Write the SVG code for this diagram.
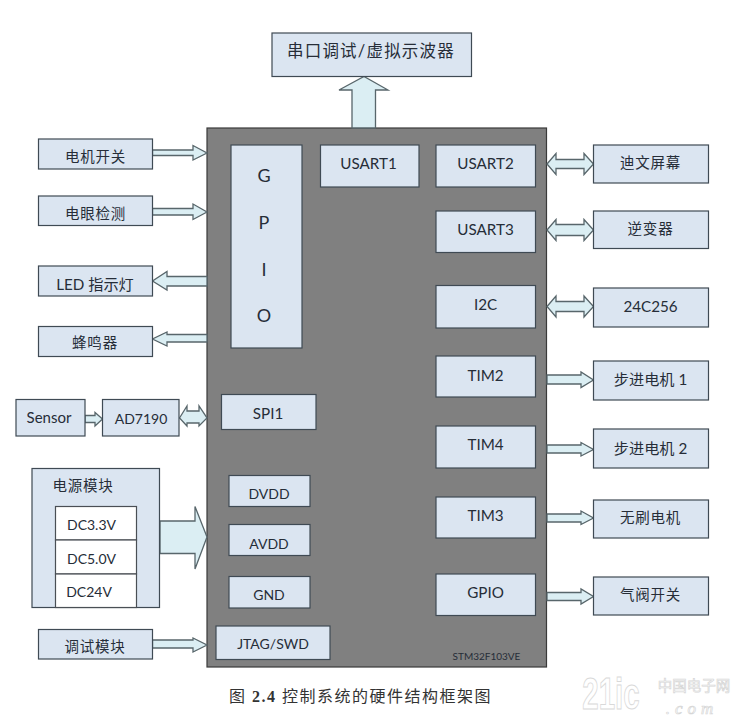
<svg xmlns="http://www.w3.org/2000/svg" width="737" height="720" viewBox="0 0 737 720">
<style>
.b{fill:#dbe5f1;stroke:#3f4a54;stroke-width:1.2}
.w{fill:#fff;stroke:#4a4f55;stroke-width:1.2}
.a{fill:#dbeef3;stroke:#58666b;stroke-width:1.3;stroke-linejoin:miter}
text{font-family:"Lato","Noto Sans CJK SC",sans-serif;fill:#262d38;font-size:15.200px;text-anchor:middle}
.c{letter-spacing:.8px;font-size:14.500px}
.s{font-size:14px}
</style>
<rect width="737" height="720" fill="#fff"/>
<g id="mcu"><rect x="207" y="128" width="339.500" height="539" fill="#808080" stroke="#3a3a3a" stroke-width="1.2"/><text x="486.500" y="660" style="font-size:10px">STM32F103VE</text></g>
<g id="connectors">
<path class="a" d="M352 128V90H339L364 76.500L388 90H375.500V128Z"/>
<path class="a" d="M152.500 150H193V145.500L207 153L193 160V155.500H152.500Z"/>
<path class="a" d="M152.500 208.500H193V204L207 212L193 219.500V215H152.500Z"/>
<path class="a" d="M207 276.500H167V271.500L152.500 281L167 290V286H207Z"/>
<path class="a" d="M207 334.500H167V332L152.500 339L167 346V342H207Z"/>
<path class="a" d="M85 415.500H95V412.500L102.500 419L95 426V422.500H85Z"/>
<path class="a" d="M179.500 418L187 406V411H199V406L207 418L199 426V423H187V426Z"/>
<path class="a" d="M160 521H195V506.500L207 537L195 569V553.500H160Z"/>
<path class="a" d="M152.500 640H193V638L207 645L193 652V648H152.500Z"/>
<path class="a" d="M547 164L556 153.500V159.500H584V153.500L593.500 164L584 174.500V168.500H556V174.500Z"/>
<path class="a" d="M547 230L556 219.500V224.500H584V219.500L593.500 230L584 240.500V235.500H556V240.500Z"/>
<path class="a" d="M547 306.500L556 296V301.500H584V296L593.500 306.500L584 317V311.500H556V317Z"/>
<path class="a" d="M547 375H581V372L593.500 380L581 387.500V384H547Z"/>
<path class="a" d="M547 445H581V442.500L593.500 449.500L581 456V453H547Z"/>
<path class="a" d="M547 514H581V511L593.500 518L581 524.500V522H547Z"/>
<path class="a" d="M547 592.500H581V589L593.500 596.500L581 604V600.500H547Z"/>
</g>
<g id="n1"><rect class="b" x="272" y="33" width="199.500" height="43.500"/><text x="371" y="56.500" style="font-size:16.500px;letter-spacing:1.200px">串口调试/虚拟示波器</text></g>
<g id="n2"><rect class="b" x="38.500" y="139" width="114" height="30"/><text class="c" x="95.500" y="162">电机开关</text></g>
<g id="n3"><rect class="b" x="38.500" y="196" width="114" height="29.500"/><text class="c" x="95.500" y="218.500">电眼检测</text></g>
<g id="n4"><rect class="b" x="38.500" y="266" width="114" height="30"/><text x="95" y="289.500">LED 指示灯</text></g>
<g id="n5"><rect class="b" x="38.500" y="326.500" width="114" height="30"/><text class="c" x="95" y="348">蜂鸣器</text></g>
<g id="n6"><rect class="b" x="231" y="145" width="71" height="203"/><text x="264" y="182" style="font-size:18px">G</text><text x="264" y="229" style="font-size:18px">P</text><text x="264" y="276" style="font-size:18px">I</text><text x="264" y="322" style="font-size:18px">O</text></g>
<g id="n7"><rect class="b" x="320.500" y="145" width="98.500" height="42"/><text x="368.500" y="169">USART1</text></g>
<g id="n8"><rect class="b" x="436" y="145" width="99.500" height="42"/><text x="485.500" y="169">USART2</text></g>
<g id="n9"><rect class="b" x="436" y="211" width="99.500" height="41.500"/><text x="485.500" y="234.500">USART3</text></g>
<g id="n10"><rect class="b" x="436" y="285.500" width="99.500" height="42.500"/><text x="485.500" y="309.500">I2C</text></g>
<g id="n11"><rect class="b" x="436" y="356" width="99.500" height="41"/><text x="485.500" y="380.500">TIM2</text></g>
<g id="n12"><rect class="b" x="436" y="426" width="99.500" height="42"/><text x="485.500" y="449.500">TIM4</text></g>
<g id="n13"><rect class="b" x="436" y="497" width="99.500" height="41"/><text x="485.500" y="520.500">TIM3</text></g>
<g id="n14"><rect class="b" x="436" y="574" width="99.500" height="41.500"/><text x="485.500" y="597.500">GPIO</text></g>
<g id="n15"><rect class="b" x="593.500" y="145" width="115" height="38"/><text class="c" x="650.500" y="168">迪文屏幕</text></g>
<g id="n16"><rect class="b" x="593.500" y="211" width="115" height="37.500"/><text class="c" x="650.500" y="234">逆变器</text></g>
<g id="n17"><rect class="b" x="593.500" y="288" width="115" height="39"/><text x="650.500" y="312">24C256</text></g>
<g id="n18"><rect class="b" x="593.500" y="361" width="115" height="39"/><text x="650.500" y="385">步进电机 1</text></g>
<g id="n19"><rect class="b" x="593.500" y="429" width="115" height="39"/><text x="650.500" y="454">步进电机 2</text></g>
<g id="n20"><rect class="b" x="593.500" y="500" width="115" height="38"/><text class="c" x="650.500" y="523">无刷电机</text></g>
<g id="n21"><rect class="b" x="593.500" y="577" width="115" height="38"/><text class="c" x="650.500" y="600">气阀开关</text></g>
<g id="n22"><rect class="b" x="16" y="399.500" width="69" height="36.500"/><text x="49" y="423" style="font-size:15px">Sensor</text></g>
<g id="n23"><rect class="b" x="102.500" y="399.500" width="76.500" height="36.500"/><text class="s" x="141" y="423.500">AD7190</text></g>
<g id="n24"><rect class="b" x="221.500" y="394.500" width="94.500" height="35"/><text x="268" y="418.500">SPI1</text></g>
<g id="n25"><rect class="b" x="32" y="468.500" width="127.500" height="139"/><text class="c" x="83" y="491">电源模块</text>
<rect class="w" x="55.500" y="506.500" width="81" height="33.500"/><rect class="w" x="55.500" y="540" width="81" height="34"/><rect class="w" x="55.500" y="574" width="81" height="33.500"/>
<text class="s" x="91.500" y="530">DC3.3V</text><text class="s" x="91.500" y="564">DC5.0V</text><text class="s" x="89" y="597">DC24V</text></g>
<g id="n26"><rect class="b" x="229" y="475.500" width="81" height="31"/><text class="s" x="269" y="499">DVDD</text></g>
<g id="n27"><rect class="b" x="229" y="524.500" width="81" height="31"/><text class="s" x="269" y="549">AVDD</text></g>
<g id="n28"><rect class="b" x="229" y="576.500" width="81" height="31.500"/><text class="s" x="269" y="600">GND</text></g>
<g id="n29"><rect class="b" x="216" y="626" width="114" height="33.500"/><text class="s" x="273" y="649">JTAG/SWD</text></g>
<g id="n30"><rect class="b" x="38.500" y="629.500" width="114" height="29.500"/><text class="c" x="95" y="652">调试模块</text></g>
<text x="360.500" y="702" style="font-family:'Liberation Serif','Noto Sans CJK SC',serif;font-size:16px;letter-spacing:1.500px;fill:#333">图 <tspan font-weight="bold">2.4</tspan> 控制系统的硬件结构框架图</text>
<g id="watermark"><text transform="translate(611 709) scale(.67 1)" style="font-family:'Liberation Sans',sans-serif;font-size:44px;font-weight:bold;fill:#fff;stroke:#d9d9d9;stroke-width:1">21ic</text><text x="694" y="691" style="font-family:'Noto Sans CJK SC',sans-serif;font-size:14.500px;fill:#fff;stroke:#d6d6d6;stroke-width:.7">中国电子网</text><text x="692" y="714" style="font-family:'Liberation Serif',serif;font-size:17px;font-style:italic;letter-spacing:5px;fill:#fff;stroke:#d6d6d6;stroke-width:.7">.com</text></g>
</svg>
